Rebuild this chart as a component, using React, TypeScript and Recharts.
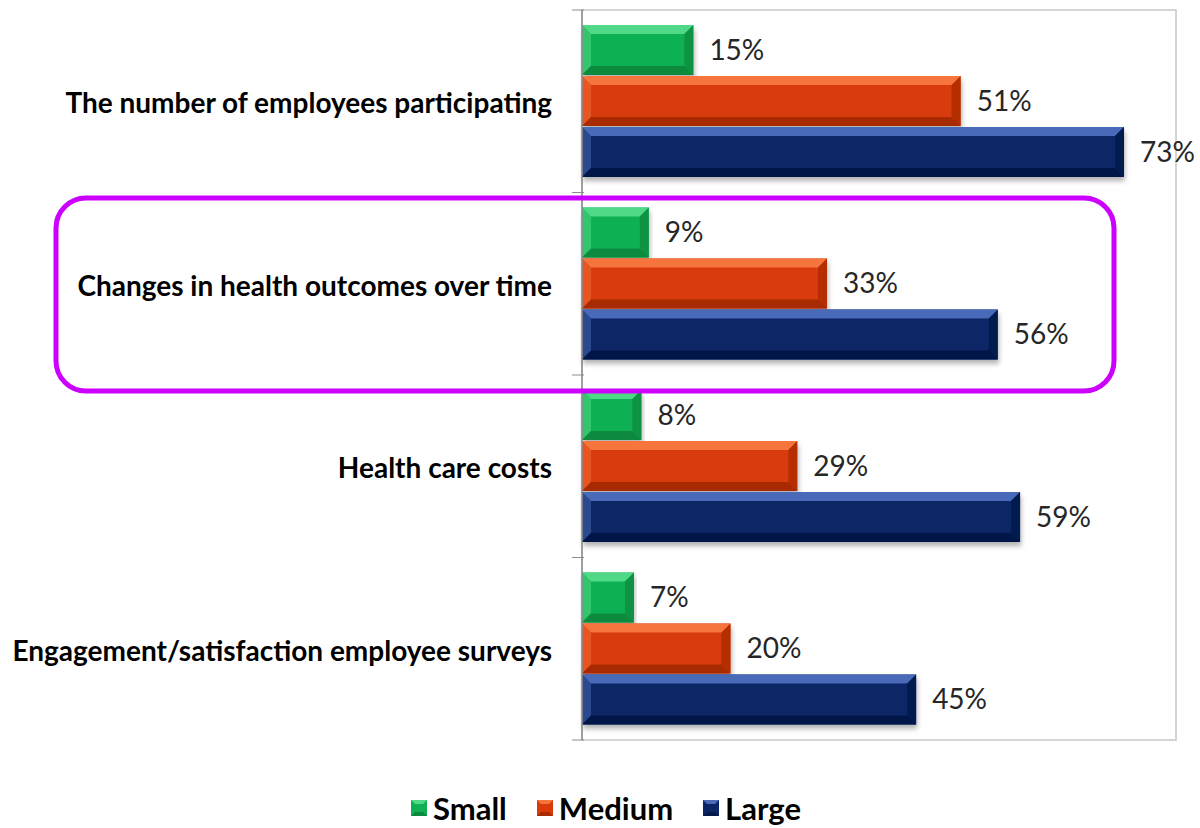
import React from "react";
import {
  BarChart,
  Bar,
  XAxis,
  YAxis,
  Legend,
  LabelList,
  ReferenceArea,
} from "recharts";

const categories = [
  "The number of employees participating",
  "Changes in health outcomes over time",
  "Health care costs",
  "Engagement/satisfaction employee surveys",
];
const small = [15, 9, 8, 7];
const medium = [51, 33, 29, 20];
const large = [73, 56, 59, 45];

const SERIES = [
  { key: "Small", base: "#10b052", light: "#4fd987", dark: "#0a8a3e" },
  { key: "Medium", base: "#d83a08", light: "#f5743e", dark: "#a82a04" },
  { key: "Large", base: "#0b2566", light: "#4a6bb8", dark: "#06184a" },
];

const FONT = "Lato, 'Open Sans', sans-serif";

const chartData = categories.map((name, i) => ({
  name,
  Small: small[i],
  Medium: medium[i],
  Large: large[i],
}));

// bevelled bar, like the office 3D preset
function BevelBar(props: any) {
  const { x, y, width, height, base, light, dark } = props;
  if (!width || width <= 0) return null;
  const b = Math.min(9, width / 2, height / 2);
  const r = x + width;
  const bt = y + height;
  return (
    <g filter="url(#barShadow)">
      <rect x={x} y={y} width={width} height={height} fill={base} />
      <polygon points={`${x},${y} ${r},${y} ${r - b},${y + b} ${x + b},${y + b}`} fill={light} />
      <polygon points={`${x},${y} ${x + b},${y + b} ${x + b},${bt - b} ${x},${bt}`} fill={light} opacity={0.5} />
      <polygon points={`${x},${bt} ${x + b},${bt - b} ${r - b},${bt - b} ${r},${bt}`} fill={dark} />
      <polygon points={`${r},${y} ${r},${bt} ${r - b},${bt - b} ${r - b},${y + b}`} fill={dark} opacity={0.75} />
    </g>
  );
}

function CategoryTick(props: any) {
  const { x, y, payload, index } = props;
  const half = payload && payload.offset ? payload.offset : 91.25;
  return (
    <g>
      <line x1={x - 2} x2={x + 10} y1={y - half} y2={y - half} stroke="#8c8c8c" />
      {index === categories.length - 1 && (
        <line x1={x - 2} x2={x + 10} y1={y + half} y2={y + half} stroke="#8c8c8c" />
      )}
      <text
        x={x - 22}
        y={y + 1}
        textAnchor="end"
        dominantBaseline="central"
        fontFamily={FONT}
        fontWeight={700}
        fontSize={28}
        fill="#000"
      >
        {payload.value}
      </text>
    </g>
  );
}

function LegendContent() {
  return (
    <div
      style={{
        display: "flex",
        justifyContent: "center",
        gap: 30,
        fontFamily: FONT,
        fontWeight: 700,
        fontSize: 31,
        lineHeight: "36px",
        color: "#000",
        paddingLeft: 12,
      }}
    >
      {SERIES.map((s) => (
        <div key={s.key} style={{ display: "flex", alignItems: "center", gap: 6 }}>
          <svg width={16} height={16}>
            <rect x={0} y={0} width={16} height={16} fill={s.base} />
            <polygon points="0,0 16,0 12,4 4,4" fill={s.light} />
            <polygon points="0,16 4,12 12,12 16,16" fill={s.dark} />
          </svg>
          <span>{s.key}</span>
        </div>
      ))}
    </div>
  );
}

export default function App() {
  return (
    <div style={{ position: "absolute", left: 0, top: 0, width: 1200, height: 828, background: "#fff" }}>
      <BarChart
        width={1200}
        height={828}
        data={chartData}
        layout="vertical"
        margin={{ top: 10, right: 24, left: 0, bottom: 52 }}
        barCategoryGap={15}
        barGap={1}
      >
        <defs>
          <filter id="barShadow" x="-5%" y="-20%" width="110%" height="160%">
            <feDropShadow dx={1} dy={4} stdDeviation={2.5} floodColor="#000" floodOpacity={0.3} />
          </filter>
        </defs>
        <ReferenceArea x1={0} x2={80} fill="none" stroke="#c8c8c8" strokeWidth={1.5} />
        <XAxis type="number" domain={[0, 80]} hide />
        <YAxis
          type="category"
          dataKey="name"
          width={582}
          axisLine={{ stroke: "#8c8c8c", strokeWidth: 1.5 }}
          tickLine={false}
          tick={<CategoryTick />}
          interval={0}
        />
        <Legend
          verticalAlign="bottom"
          content={<LegendContent />}
          wrapperStyle={{ left: 0, width: 1200, top: 790 }}
        />
        {SERIES.map((s) => (
          <Bar
            key={s.key}
            dataKey={s.key}
            fill={s.base}
            isAnimationActive={false}
            shape={<BevelBar base={s.base} light={s.light} dark={s.dark} />}
          >
            <LabelList
              dataKey={s.key}
              position="right"
              offset={16}
              formatter={(v: any) => `${v}%`}
              style={{ fontFamily: FONT, fontSize: 28, fill: "#262626" }}
            />
          </Bar>
        ))}
      </BarChart>
      <svg
        width={1200}
        height={828}
        style={{ position: "absolute", left: 0, top: 0, pointerEvents: "none" }}
      >
        <rect x={56} y={198} width={1058} height={193} rx={30} fill="none" stroke="#cc00ff" strokeWidth={5} />
      </svg>
    </div>
  );
}
